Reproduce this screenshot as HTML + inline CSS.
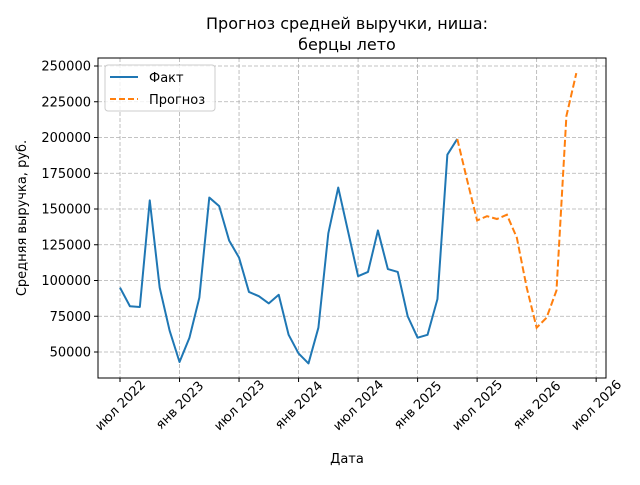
<!DOCTYPE html>
<html><head><meta charset="utf-8"><style>
body{margin:0;background:#fff;font-family:"Liberation Sans","DejaVu Sans",sans-serif}
svg text{font-family:"DejaVu Sans","Liberation Sans",sans-serif}
</style></head><body>
<svg id="c" width="640" height="480" xmlns="http://www.w3.org/2000/svg">
<rect width="640" height="480" fill="#fff"/>
<text x="347" y="29" text-anchor="middle" font-size="16">Прогноз средней выручки, ниша:</text>
<text x="347" y="50" text-anchor="middle" font-size="16">берцы лето</text>
<g id="grid"></g><g id="ticks"></g><g id="series"></g>
<rect x="98" y="58" width="508" height="320" fill="none" stroke="#000" stroke-width="1"/>
<text x="347" y="463" text-anchor="middle" font-size="13">Дата</text>
<text transform="translate(26,218) rotate(-90)" text-anchor="middle" font-size="13">Средняя выручка, руб.</text>
<g>
<rect x="105" y="65" width="110" height="46" rx="3" fill="#fff" fill-opacity="0.8" stroke="#ccc"/>
<line x1="110" y1="77" x2="138" y2="77" stroke="#1f77b4" stroke-width="2"/>
<text x="149" y="82" font-size="13">Факт</text>
<line x1="110" y1="99" x2="138" y2="99" stroke="#ff7f0e" stroke-width="2" stroke-dasharray="6,3"/>
<text x="149" y="104" font-size="13">Прогноз</text>
</g>
</svg>
<script>
const factValues=[95000,82000,81500,156000,95000,65000,43000,60000,88000,158000,152000,128000,116000,92000,89000,84000,90000,62000,49000,42000,67000,133000,165000,134000,103000,106000,135000,108000,106000,75000,60000,62000,87000,188000,199000];
const forecastValues=[199000,170000,142000,145000,143000,146000,130000,95000,67000,74000,93000,215000,245000];
const forecastStart=34;
const yTicks=[50000,75000,100000,125000,150000,175000,200000,225000,250000];
const xTickMonths=[0,6,12,18,24,30,36,42,48];
const xTickLabels=["июл 2022","янв 2023","июл 2023","янв 2024","июл 2024","янв 2025","июл 2025","янв 2026","июл 2026"];
const NS="http://www.w3.org/2000/svg";
const xs=m=>120+m*9.92;
const ys=v=>66+(250000-v)*286/200000;
const grid=document.getElementById('grid'),ticks=document.getElementById('ticks'),ser=document.getElementById('series');
function mk(tag,attrs,parent){const e=document.createElementNS(NS,tag);for(const k in attrs)e.setAttribute(k,attrs[k]);parent.appendChild(e);return e;}
yTicks.forEach(v=>{const y=ys(v);
const g=mk('line',{x1:98,x2:606,y1:y,y2:y,stroke:'#b0b0b0','stroke-dasharray':'4,2','stroke-width':0.8},grid);


mk('line',{x1:94,x2:98,y1:y,y2:y,stroke:'#000'},ticks);
const t=mk('text',{x:91,y:y+4.5,'text-anchor':'end','font-size':13},ticks);t.textContent=v;

});
xTickMonths.forEach((m,i)=>{const x=xs(m);
const g=mk('line',{x1:x,x2:x,y1:58,y2:378,stroke:'#b0b0b0','stroke-dasharray':'4,2','stroke-width':0.8},grid);


mk('line',{x1:x,x2:x,y1:378,y2:382,stroke:'#000'},ticks);
const t=mk('text',{x:x,y:409.5,'text-anchor':'middle','font-size':13,transform:`rotate(-45 ${x} 405)`},ticks);t.textContent=xTickLabels[i];

});
const fp=factValues.map((v,i)=>xs(i)+','+ys(v)).join(' ');
const f=mk('polyline',{points:fp,fill:'none',stroke:'#1f77b4','stroke-width':2,'stroke-linejoin':'round'},ser);


const pp=forecastValues.map((v,i)=>xs(forecastStart+i)+','+ys(v)).join(' ');
const p=mk('polyline',{points:pp,fill:'none',stroke:'#ff7f0e','stroke-width':2,'stroke-dasharray':'7,3'},ser);


</script>
</body></html>
